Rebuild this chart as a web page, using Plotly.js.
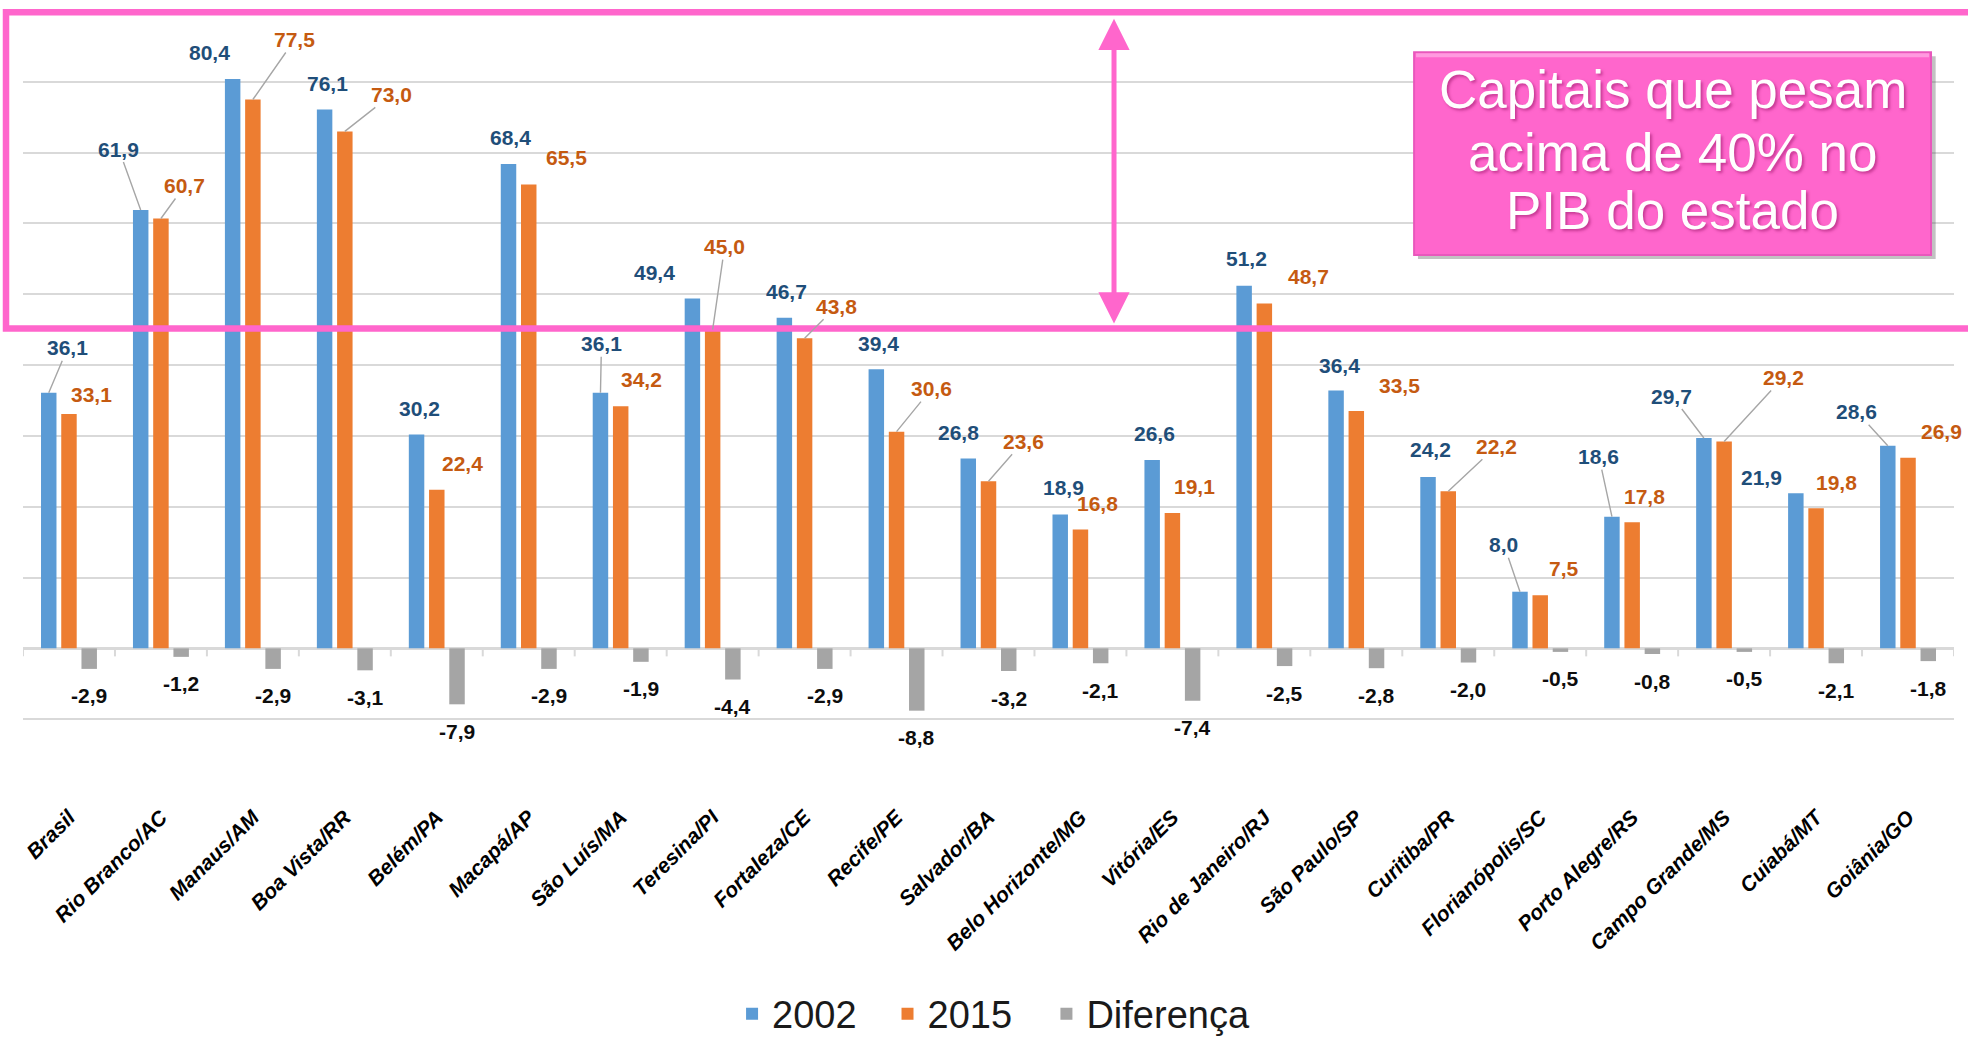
<!DOCTYPE html>
<html><head><meta charset="utf-8">
<script src="https://cdn.plot.ly/plotly-3.0.1.min.js"></script>
<style>html,body{margin:0;padding:0;background:#fff;} #chart{width:1968px;height:1059px;}</style>
</head><body><div id="chart"></div>
<script>
// ---------- data ----------
const categories = ['Brasil','Rio Branco/AC','Manaus/AM','Boa Vista/RR','Belém/PA','Macapá/AP','São Luís/MA','Teresina/PI','Fortaleza/CE','Recife/PE','Salvador/BA','Belo Horizonte/MG','Vitória/ES','Rio de Janeiro/RJ','São Paulo/SP','Curitiba/PR','Florianópolis/SC','Porto Alegre/RS','Campo Grande/MS','Cuiabá/MT','Goiânia/GO'];
const values2002 = [36.1, 61.9, 80.4, 76.1, 30.2, 68.4, 36.1, 49.4, 46.7, 39.4, 26.8, 18.9, 26.6, 51.2, 36.4, 24.2, 8.0, 18.6, 29.7, 21.9, 28.6];
const values2015 = [33.1, 60.7, 77.5, 73.0, 22.4, 65.5, 34.2, 45.0, 43.8, 30.6, 23.6, 16.8, 19.1, 48.7, 33.5, 22.2, 7.5, 17.8, 29.2, 19.8, 26.9];
const diferenca  = [-2.9, -1.2, -2.9, -3.1, -7.9, -2.9, -1.9, -4.4, -2.9, -8.8, -3.2, -2.1, -7.4, -2.5, -2.8, -2.0, -0.5, -0.8, -0.5, -2.1, -1.8];
const seriesNames = ['2002', '2015', 'Diferença'];
const boxLines = ['Capitais que pesam', 'acima de 40% no', 'PIB do estado'];

// ---------- label placement (pixel offsets from bar end, leader line flag) ----------
const off2002 = [[19,-45,1],[-22,-61,1],[-23,-26,0],[3,-26,0],[3,-26,0],[2,-26,0],[1,-49,1],[-38,-26,0],[2,-26,0],[2,-26,0],[-10,-26,0],[3,-27,0],[2,-26,0],[2,-27,0],[3,-25,0],[2,-27,0],[-16,-47,1],[-13,-60,1],[-32,-42,1],[-34,-16,0],[-31,-34,1]];
const off2015 = [[23,-19,0],[24,-33,1],[42,-60,1],[47,-37,1],[26,-26,0],[38,-27,0],[21,-27,0],[12,-83,1],[32,-32,1],[35,-43,1],[35,-40,1],[17,-26,0],[22,-27,0],[44,-27,0],[43,-26,0],[48,-45,1],[24,-27,0],[12,-26,0],[59,-64,1],[20,-26,0],[33,-26,0]];

// ---------- layout constants ----------
const W = 1968, H = 1059;
const M = {l: 23, r: 14, t: 11, b: 269};
const plotW = W - M.l - M.r;
const BARGAP = 0.34, GROUPGAP = 0.235;
const slotPx = (1 - BARGAP) / 3 * plotW / categories.length;
const PINK = '#FF66CC';
const labelFont = 'Liberation Sans, Arial, sans-serif';
const fmt = v => v.toFixed(1).replace('.', ',');

const traces = [
  {type:'bar', name:seriesNames[0], x:categories, y:values2002, marker:{color:'#5B9BD5'}, hoverinfo:'skip', legend:'legend'},
  {type:'bar', name:seriesNames[1], x:categories, y:values2015, marker:{color:'#ED7D31'}, hoverinfo:'skip', legend:'legend2'},
  {type:'bar', name:seriesNames[2], x:categories, y:diferenca, marker:{color:'#A5A5A5'}, hoverinfo:'skip', legend:'legend3'}
];

const annotations = [];
function addLabel(cat, val, barShift, o, color) {
  const base = {x:cat, y:val, xref:'x', yref:'y', text:fmt(val),
    font:{family:labelFont, size:21, color:color, weight:'bold'}};
  if (o[2]) {
    annotations.push(Object.assign(base, {showarrow:true, arrowhead:0, arrowwidth:1.4,
      arrowcolor:'#A6A6A6', standoff:0, startstandoff:0, ax:o[0], ay:o[1], xshift:barShift}));
  } else {
    annotations.push(Object.assign(base, {showarrow:false, xanchor:'center', yanchor:'middle',
      xshift:barShift + o[0], yshift:-o[1]}));
  }
}
categories.forEach((c, i) => {
  addLabel(c, values2002[i], -slotPx, off2002[i], '#1F4E79');
  addLabel(c, values2015[i], 0, off2015[i], '#C55A11');
  annotations.push({x:c, y:diferenca[i], xref:'x', yref:'y', text:fmt(diferenca[i]), showarrow:false,
    xanchor:'center', yanchor:'middle', xshift:slotPx, yshift:-27,
    font:{family:labelFont, size:21, color:'#0D0D0D', weight:'bold'}});
});

// double arrow
annotations.push({xref:'paper', yref:'paper', axref:'paper', ayref:'paper',
  x:0.565, y:0.599, ax:0.565, ay:0.992, text:'', showarrow:true, arrowside:'end+start',
  arrowhead:2, arrowsize:1.25, arrowwidth:5, arrowcolor:PINK, standoff:0, startstandoff:0});

// text box lines
const boxY = [0.899, 0.8185, 0.744];
boxLines.forEach((t, k) => annotations.push({xref:'paper', yref:'paper', x:0.8544, y:boxY[k],
  xanchor:'center', yanchor:'middle', text:t, showarrow:false,
  font:{family:labelFont, size:53, color:'#FFFFFF', shadow:'2px 2px 3px rgba(150,20,100,0.55)'}}));

const shapes = [];
// tick marks on the zero line at category boundaries
for (let i = 0; i <= categories.length; i++) {
  shapes.push({type:'line', xref:'x', yref:'y', ysizemode:'pixel', yanchor:0,
    x0:i - 0.5, x1:i - 0.5, y0:0, y1:-8, line:{color:'#D9D9D9', width:2}, layer:'below'});
}
// pink frame
shapes.push({type:'rect', xref:'paper', yref:'paper', x0:-0.0088, x1:1.03, y0:0.5925, y1:0.9985,
  line:{color:PINK, width:6.5}, fillcolor:'rgba(0,0,0,0)', layer:'above'});
// text box shadow + box
shapes.push({type:'rect', xref:'paper', yref:'paper', x0:0.7224, x1:0.9905, y0:0.6815, y1:0.942,
  line:{width:0}, fillcolor:'rgba(80,80,80,0.35)', layer:'above'});
shapes.push({type:'rect', xref:'paper', yref:'paper', x0:0.7204, x1:0.9881, y0:0.6868, y1:0.947,
  line:{color:'#E858BC', width:2}, fillcolor:PINK, layer:'above'});
shapes.push({type:'rect', xref:'paper', yref:'paper', x0:0.7214, x1:0.9871, y0:0.9405, y1:0.9458,
  line:{width:0}, fillcolor:'#FF9ADF', layer:'above'});

const legFont = {family:labelFont, size:38, color:'#1A1A1A'};
const legBase = {orientation:'h', xanchor:'left', y:-0.2875, yanchor:'middle', font:legFont, bgcolor:'rgba(0,0,0,0)'};

const layout = {
  width: W, height: H,
  margin: M,
  paper_bgcolor:'#FFFFFF', plot_bgcolor:'#FFFFFF',
  barmode:'group', bargap:BARGAP, bargroupgap:GROUPGAP,
  showlegend:true,
  legend:Object.assign({x:0.3672}, legBase),
  legend2:Object.assign({x:0.4477}, legBase),
  legend3:Object.assign({x:0.5300}, legBase),
  xaxis:{type:'category', range:[-0.5, categories.length - 0.5], showgrid:false, showline:false,
    ticks:'', tickangle:-45, ticklabelstandoff:10,
    tickfont:{family:labelFont, size:21, color:'#000000', weight:'bold', style:'italic'}},
  yaxis:{range:[-20, 90], dtick:10, showticklabels:false, showgrid:true, gridcolor:'#D9D9D9', gridwidth:2,
    zeroline:true, zerolinecolor:'#D9D9D9', zerolinewidth:3, showline:false, ticks:''},
  annotations: annotations,
  shapes: shapes
};

Plotly.newPlot('chart', traces, layout, {staticPlot:true, displayModeBar:false});
</script>
</body></html>
